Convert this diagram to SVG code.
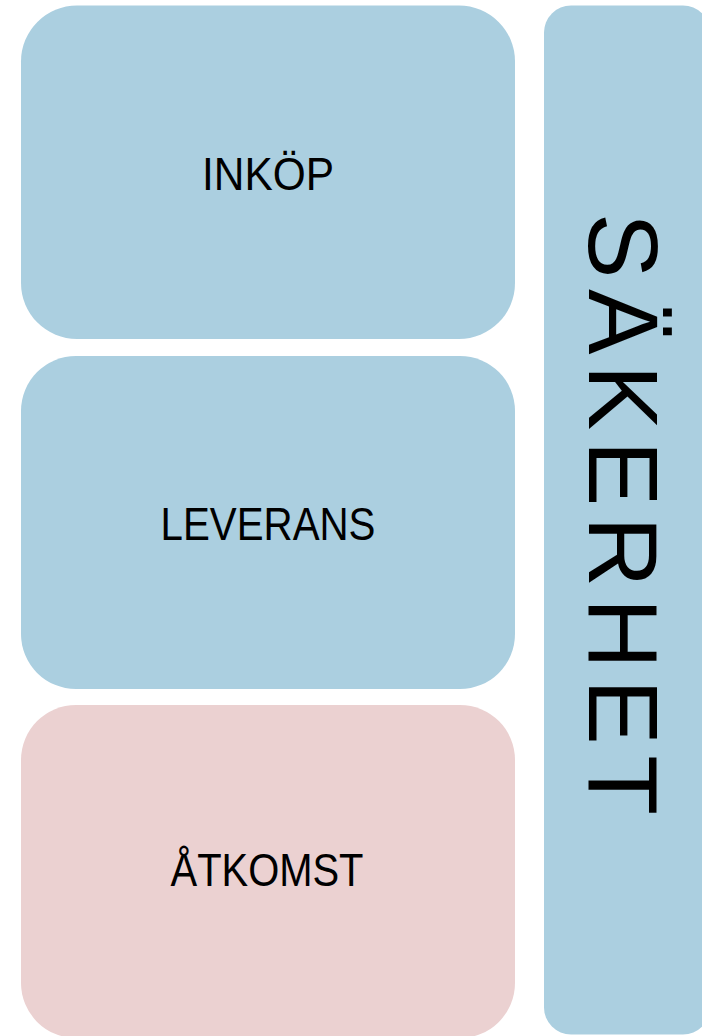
<svg xmlns="http://www.w3.org/2000/svg" width="702" height="1036" viewBox="0 0 702 1036">
<style>
.blue{fill:#abcfe0}
.pink{fill:#ebd1d1}
.lbl{font-family:"Liberation Sans",Arial,sans-serif;font-size:46px;fill:#000;text-anchor:middle}
.vlbl{font-family:"Liberation Sans",Arial,sans-serif;font-size:98px;fill:#000}
</style>
<rect width="702" height="1036" fill="#ffffff"/>
<g id="inkop">
<rect class="blue" x="21" y="5.5" width="494" height="333.5" rx="56" ry="56"/>
<text class="lbl" x="268" y="190" textLength="132" lengthAdjust="spacingAndGlyphs">INKÖP</text>
</g>
<g id="leverans">
<rect class="blue" x="21" y="356" width="494" height="333" rx="55" ry="55"/>
<text class="lbl" x="268" y="540" textLength="215" lengthAdjust="spacingAndGlyphs">LEVERANS</text>
</g>
<g id="atkomst">
<rect class="pink" x="21" y="705" width="494" height="333" rx="55" ry="55"/>
<text class="lbl" x="267" y="886" textLength="193" lengthAdjust="spacingAndGlyphs">ÅTKOMST</text>
</g>
<g id="sakerhet">
<rect class="blue" x="544" y="5.5" width="166" height="1029" rx="27" ry="27"/>
<text class="vlbl" transform="translate(589,213) rotate(90)" x="0" y="0" textLength="602" lengthAdjust="spacing">SÄKERHET</text>
</g>
<g id="connectors"></g>
</svg>
